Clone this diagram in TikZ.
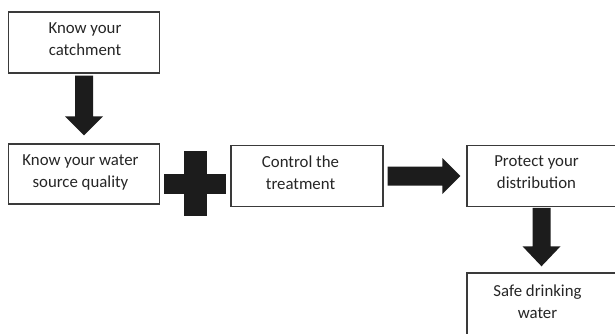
\documentclass[tikz,border=0pt]{standalone}
\usepackage{fontspec}
\setmainfont{Carlito}
\usetikzlibrary{calc}
\definecolor{boxline}{HTML}{3A3A3A}
\definecolor{blk}{HTML}{1C1C1C}
\definecolor{txtc}{HTML}{262626}
\begin{document}
\begin{tikzpicture}[x=1pt,y=-1pt,
  stepbox/.style={draw=boxline, line width=1.4pt, fill=white, rectangle, inner sep=0pt},
  txt/.style={anchor=north, inner sep=0pt, align=center, text=txtc, font=\fontsize{16.8}{22}\selectfont},
  blockarrow/.style={fill=blk}]
\useasboundingbox (0,0) rectangle (615,334);
\clip (0,0) rectangle (615,334);
\fill[white] (0,0) rectangle (615,334);
% boxes
\node[stepbox, minimum width=151pt, minimum height=61pt] (b1) at (84,42.5) {};
\node[stepbox, minimum width=151pt, minimum height=60pt] (b2) at (84,174) {};
\node[stepbox, minimum width=152pt, minimum height=61pt] (b3) at (307,176) {};
\node[stepbox, minimum width=149pt, minimum height=61pt] (b4) at (541.5,176) {};
\node[stepbox, minimum width=149pt, minimum height=67pt] (b5) at (541.5,306.5) {};
% texts
\node[txt] (t1) at (85,23) {Know your\\catchment};
\node[txt] (t2) at (80.5,155) {Know your water\\source quality};
\node[txt] (t3) at (300.5,155.5) {Control the\\treatment};
\node[txt] (t4) at (536.5,156) {Protect your\\distribution};
\node[txt] (t5) at (537.5,284.5) {Safe drinking\\water};
% arrow b1 -> b2
\fill[blockarrow] ($(b1.south)+(-9,2)$) -- ($(b1.south)+(9,2)$) -- ($(b2.north)+(9,-27)$) -- ($(b2.north)+(19,-27)$) -- ($(b2.north)+(0,-8)$) -- ($(b2.north)+(-19,-27)$) -- ($(b2.north)+(-9,-27)$) -- cycle;
% plus between b2 and b3
\coordinate (pc) at ($(b2.east)!0.5!(b3.west)+(0,8.5)$);
\fill[blockarrow] ($(pc)+(-31,-10)$) rectangle ($(pc)+(31,10)$);
\fill[blockarrow] ($(pc)+(-11.5,-32.5)$) rectangle ($(pc)+(11.5,32.5)$);
% arrow b3 -> b4
\fill[blockarrow] ($(b3.east)+(4,-9.5)$) -- ($(b4.west)+(-24,-9.5)$) -- ($(b4.west)+(-24,-18)$) -- ($(b4.west)+(-6,0)$) -- ($(b4.west)+(-24,18)$) -- ($(b4.west)+(-24,9.5)$) -- ($(b3.east)+(4,9.5)$) -- cycle;
% arrow b4 -> b5
\fill[blockarrow] ($(b4.south)+(-9,0.7)$) -- ($(b4.south)+(9,0.7)$) -- ($(b5.north)+(9,-26)$) -- ($(b5.north)+(19,-26)$) -- ($(b5.north)+(0,-6)$) -- ($(b5.north)+(-19,-26)$) -- ($(b5.north)+(-9,-26)$) -- cycle;
\end{tikzpicture}
\end{document}
